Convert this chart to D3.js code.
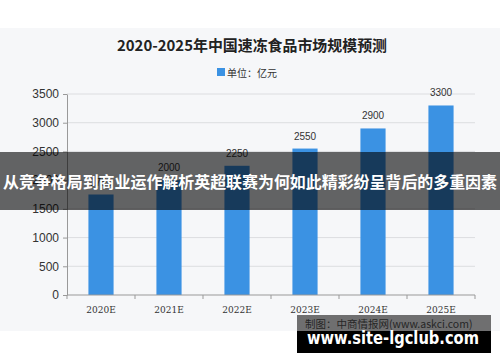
<!DOCTYPE html>
<html><head><meta charset="utf-8">
<script src="https://cdn.jsdelivr.net/npm/d3@7/dist/d3.min.js"></script>
<style>
body{margin:0;background:#fff;}
svg{display:block;}
</style></head>
<body>
<svg id="c" width="500" height="362"></svg>
<script>
const categories = ["2020E","2021E","2022E","2023E","2024E","2025E"];
const values = [1750, 2000, 2250, 2550, 2900, 3300];
const yTicks = [0, 500, 1000, 1500, 2000, 2500, 3000, 3500];
const title = "2020-2025年中国速冻食品市场规模预测";
const legendLabel = "单位：亿元";
const overlayText = "从竞争格局到商业运作解析英超联赛为何如此精彩纷呈背后的多重因素";
const sourceText = "制图：中商情报网(www.askci.com)";
const siteText = "www.site-lgclub.com";

const svg = d3.select("#c");
const font = "'Noto Sans CJK SC','Liberation Sans',sans-serif";

// chart background
svg.append("rect").attr("x",0).attr("y",28).attr("width",500).attr("height",303).attr("fill","#f6f7f9");

const x = d3.scaleBand().domain(categories).range([67,475]).paddingInner(0.63).paddingOuter(0.315);
const y = d3.scaleLinear().domain([0,3500]).range([295,94]);

// gridlines
svg.append("g").selectAll("line").data(yTicks.slice(1)).join("line")
  .attr("x1",67).attr("x2",475).attr("y1",d=>y(d)).attr("y2",d=>y(d))
  .attr("stroke","#dcdde0").attr("stroke-width",1);

// bars
svg.append("g").selectAll("rect").data(values).join("rect")
  .attr("x",(d,i)=>x(categories[i])).attr("width",x.bandwidth())
  .attr("y",d=>y(d)).attr("height",d=>y(0)-y(d)).attr("fill","#3b92e3");

// value labels
svg.append("g").selectAll("text").data(values).join("text")
  .attr("x",(d,i)=>x(categories[i])+x.bandwidth()/2).attr("y",d=>y(d)-9)
  .attr("text-anchor","middle").attr("font-family","'Liberation Sans',Arial,sans-serif")
  .attr("font-size",10).attr("fill","#333").text(d=>d);

// y axis
const yAxis = d3.axisLeft(y).tickValues(yTicks).tickFormat(d3.format("d")).tickSize(4).tickSizeOuter(0);
const gy = svg.append("g").attr("transform","translate(67,0)").call(yAxis);
gy.select(".domain").attr("stroke","#999");
gy.selectAll(".tick line").attr("stroke","#999");
gy.selectAll("text").attr("font-family","'Liberation Sans',Arial,sans-serif").attr("font-size",12).attr("fill","#333").attr("dx","-1");

// x axis
const gx = svg.append("g").attr("transform","translate(0,295)");
gx.append("line").attr("x1",67).attr("x2",475).attr("stroke","#999");
const bounds = d3.range(categories.length+1).map(i=>67+i*x.step());
gx.selectAll("line.t").data(bounds).join("line").attr("class","t")
  .attr("x1",d=>d).attr("x2",d=>d).attr("y1",0).attr("y2",4).attr("stroke","#999");
gx.selectAll("text").data(categories).join("text")
  .attr("x",d=>x(d)+x.bandwidth()/2).attr("y",18).attr("text-anchor","middle")
  .attr("font-family","'DejaVu Serif','Liberation Serif',serif").attr("font-size",9).attr("fill","#333").text(d=>d);

// title
svg.append("text").attr("x",252).attr("y",51).attr("text-anchor","middle")
  .attr("font-family",font).attr("font-size",15).attr("font-weight","bold").attr("fill","#222")
  .attr("textLength",270).attr("lengthAdjust","spacingAndGlyphs").text(title);

// legend
svg.append("rect").attr("x",217).attr("y",68).attr("width",8).attr("height",8).attr("fill","#3b92e3");
svg.append("text").attr("x",227).attr("y",76.5).attr("font-family",font).attr("font-size",10).attr("fill","#333").text(legendLabel);

// overlay band
svg.append("rect").attr("x",0).attr("y",152).attr("width",500).attr("height",58).attr("fill","rgba(0,0,0,0.6)");
svg.append("text").attr("x",250).attr("y",188).attr("text-anchor","middle")
  .attr("font-family",font).attr("font-size",16).attr("font-weight","bold").attr("fill","#fff")
  .attr("textLength",494).attr("lengthAdjust","spacingAndGlyphs").text(overlayText);

// source text and site box
svg.append("text").attr("x",305).attr("y",328).attr("font-family",font).attr("font-size",10.5).attr("fill","#555").text(sourceText);
svg.append("rect").attr("x",297).attr("y",315).attr("width",194).attr("height",16).attr("fill","rgba(0,0,0,0.55)");
svg.append("rect").attr("x",297).attr("y",331).attr("width",194).attr("height",22).attr("fill","#000");
svg.append("text").attr("x",393).attr("y",344).attr("text-anchor","middle")
  .attr("font-family","'DejaVu Sans',sans-serif").attr("font-size",17).attr("font-weight","bold").attr("fill","#fff")
  .attr("textLength",172).attr("lengthAdjust","spacingAndGlyphs").text(siteText);
</script>
</body></html>
